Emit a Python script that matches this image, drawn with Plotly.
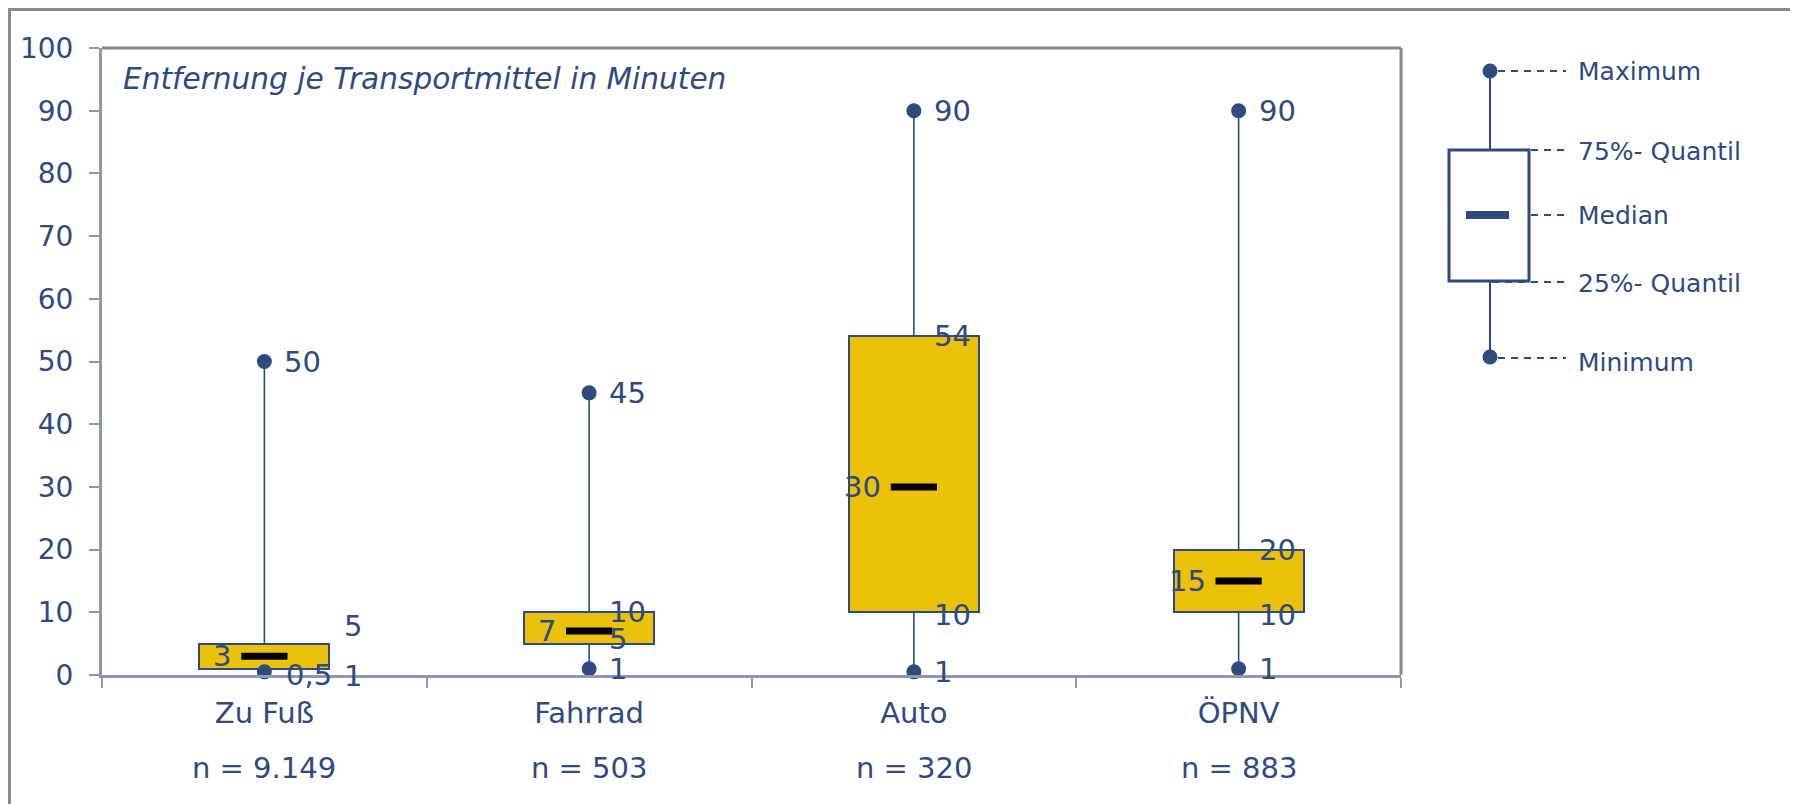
import plotly.graph_objects as go

# ---------------- data ----------------
categories = ["Zu Fuß", "Fahrrad", "Auto", "ÖPNV"]
sample_sizes = ["n = 9.149", "n = 503", "n = 320", "n = 883"]
minimum = [0.5, 1, 0.5, 1]
quartile_25 = [1, 5, 10, 10]
median = [3, 7, 30, 15]
quartile_75 = [5, 10, 54, 20]
maximum = [50, 45, 90, 90]

label_max = ["50", "45", "90", "90"]
label_q75 = ["5", "10", "54", "20"]
label_median = ["3", "7", "30", "15"]
label_q25 = ["1", "5", "10", "10"]
label_min = ["0,5", "1", "1", "1"]

title_text = "Entfernung je Transportmittel in Minuten"
legend_labels = ["Maximum", "75%- Quantil", "Median", "25%- Quantil", "Minimum"]

# ---------------- styles ----------------
NAVY = "#2E4A7E"
YELLOW = "#EBC10A"
AXIS = "#8E97AF"
GRAY = "#8A8A8A"
FONT = "DejaVu Sans"

W, H = 1798, 804
OFF = 8                                   # page offset of the figure (body margin)
PX0, PX1, PY0, PY1 = 102, 1401, 675, 48   # plot area in page pixels


def px(x):
    return (x - PX0) / (PX1 - PX0)


def py(y):
    return (PY0 - y) / (PY0 - PY1)


fig = go.Figure()

# whiskers (max -> q3, q1 -> min)
for c, mn, q1, q3, mx in zip(categories, minimum, quartile_25, quartile_75, maximum):
    fig.add_trace(go.Scatter(x=[c, c, None, c, c], y=[mx, q3, None, q1, mn],
                             mode="lines", line=dict(color=NAVY, width=1.6),
                             hoverinfo="skip", showlegend=False))

# boxes
fig.add_trace(go.Bar(x=categories,
                     y=[q3 - q1 for q1, q3 in zip(quartile_25, quartile_75)],
                     base=quartile_25, width=0.4,
                     marker=dict(color=YELLOW, line=dict(color=NAVY, width=2)),
                     showlegend=False))

# min / max dots
fig.add_trace(go.Scatter(x=categories + categories, y=maximum + minimum, mode="markers",
                         marker=dict(color=NAVY, size=15), cliponaxis=False,
                         showlegend=False))

# medians
fig.add_trace(go.Scatter(x=categories, y=median, mode="markers",
                         marker=dict(symbol="line-ew", size=33, color="black",
                                     line=dict(color="black", width=7)),
                         showlegend=False))

annotations = []
lab_font = dict(family=FONT, size=29, color=NAVY)

# label placement offsets (pixels): (xshift, yshift)
off_max = [(18, 0)] * 4
off_q75 = [(78, 18), (18, 0), (18, 0), (18, 0)]
off_q25 = [(78, -7), (18, 5), (18, -3), (18, -3)]
off_min = [(20, -3), (18, 0), (18, 0), (18, 0)]

for i, c in enumerate(categories):
    for val, txt, off in [(maximum[i], label_max[i], off_max[i]),
                          (quartile_75[i], label_q75[i], off_q75[i]),
                          (quartile_25[i], label_q25[i], off_q25[i]),
                          (minimum[i], label_min[i], off_min[i])]:
        annotations.append(dict(x=c, y=val, xref="x", yref="y", text=txt, showarrow=False,
                                xanchor="left", yanchor="middle", xshift=off[0], yshift=off[1],
                                font=lab_font))
    annotations.append(dict(x=c, y=median[i], xref="x", yref="y", text=label_median[i],
                            showarrow=False, xanchor="right", yanchor="middle", xshift=-31,
                            font=lab_font))
    annotations.append(dict(x=c, y=0, xref="x", yref="paper", text=sample_sizes[i],
                            showarrow=False, xanchor="center", yanchor="middle", yshift=-93,
                            font=lab_font))

# title inside plot
annotations.append(dict(x=px(121), y=py(79), xref="paper", yref="paper", text=title_text,
                        showarrow=False, xanchor="left", yanchor="middle",
                        font=dict(family=FONT, size=29.6, color=NAVY, style="italic")))

# legend texts
leg_y = [71, 151, 216, 283, 362]
for t, yy in zip(legend_labels, leg_y):
    annotations.append(dict(x=px(1576), y=py(yy), xref="paper", yref="paper", text=t,
                            showarrow=False, xanchor="left", yanchor="middle",
                            font=dict(family=FONT, size=25, color=NAVY)))

shapes = []
# outer frame
shapes.append(dict(type="rect", xref="paper", yref="paper", x0=px(9.5), x1=px(1850),
                   y0=py(860), y1=py(9.5), line=dict(color=GRAY, width=3)))
# plot area top/right border
shapes.append(dict(type="line", xref="paper", yref="paper", x0=0, x1=1, y0=1, y1=1,
                   line=dict(color=GRAY, width=3)))
shapes.append(dict(type="line", xref="paper", yref="paper", x0=1, x1=1, y0=0, y1=1,
                   line=dict(color=GRAY, width=3)))

# legend drawing
LX = 1490
shapes.append(dict(type="line", xref="paper", yref="paper", x0=px(LX), x1=px(LX),
                   y0=py(71), y1=py(150), line=dict(color=NAVY, width=2)))
shapes.append(dict(type="line", xref="paper", yref="paper", x0=px(LX), x1=px(LX),
                   y0=py(281), y1=py(357), line=dict(color=NAVY, width=2)))
dash = "7px,6px"
for (xa, yy) in [(1498, 71), (1531, 150), (1531, 215), (1492, 282), (1498, 358)]:
    shapes.append(dict(type="line", xref="paper", yref="paper", x0=px(xa), x1=px(1566),
                       y0=py(yy), y1=py(yy), line=dict(color=NAVY, width=2, dash=dash)))
shapes.append(dict(type="rect", xref="paper", yref="paper", x0=px(1449), x1=px(1529),
                   y0=py(281), y1=py(150), line=dict(color=NAVY, width=3), fillcolor="white"))
shapes.append(dict(type="rect", xref="paper", yref="paper", x0=px(1466), x1=px(1509),
                   y0=py(219), y1=py(211), line=dict(width=0), fillcolor=NAVY))
for yy in [71, 357]:
    shapes.append(dict(type="circle", xref="paper", yref="paper", x0=px(LX - 7.5),
                       x1=px(LX + 7.5), y0=py(yy + 7.5), y1=py(yy - 7.5),
                       line=dict(width=0), fillcolor=NAVY))

fig.update_layout(
    width=W, height=H, autosize=False,
    margin=dict(l=PX0 - OFF, r=W - (PX1 - OFF), t=PY1 - OFF, b=H - (PY0 - OFF), pad=0),
    paper_bgcolor="white", plot_bgcolor="white",
    showlegend=False, bargap=0,
    annotations=annotations, shapes=shapes,
    font=dict(family=FONT, color=NAVY),
    xaxis=dict(type="category", range=[-0.5, 3.5], showgrid=False, zeroline=False,
               showline=True, linecolor=AXIS, linewidth=3,
               ticks="outside", tickson="boundaries", ticklen=10, tickwidth=2, tickcolor=AXIS,
               tickfont=dict(family=FONT, size=29, color=NAVY), ticklabelstandoff=10),
    yaxis=dict(range=[0, 100], dtick=10, tick0=0, showgrid=False, zeroline=False,
               showline=True, linecolor=AXIS, linewidth=3,
               ticks="outside", ticklen=10, tickwidth=2, tickcolor=AXIS,
               tickfont=dict(family=FONT, size=28, color=NAVY), ticklabelstandoff=10),
)

fig.write_html("out.html")
